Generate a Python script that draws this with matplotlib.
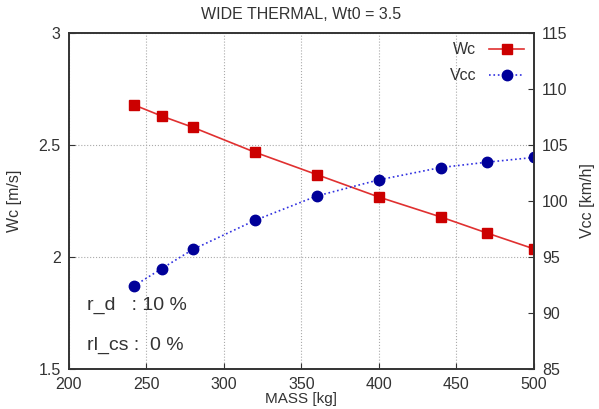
import matplotlib.pyplot as plt

mass = [242, 260, 280, 320, 360, 400, 440, 470, 500]
wc = [2.678, 2.628, 2.578, 2.467, 2.367, 2.267, 2.178, 2.106, 2.036]
vcc = [92.4, 93.96, 95.66, 98.25, 100.43, 101.87, 102.97, 103.45, 103.87]

plt.rcParams['font.family'] = ['Liberation Sans', 'DejaVu Sans']
txt = '#333333'

fig = plt.figure(figsize=(5.99, 4.09), dpi=100)
ax = fig.add_axes([0.115, 0.098, 0.776, 0.822])
ax2 = ax.twinx()

l1, = ax.plot(mass, wc, color='#e03030', lw=1.2, marker='s', ms=7.5,
              mfc='#cc0000', mec='#cc0000', label='Wc')
l2, = ax2.plot(mass, vcc, color='#3030e0', lw=1.2, ls=':', marker='o', ms=7.5,
               mfc='#000099', mec='#000099', label='Vcc')

ax.set_xlim(200, 500)
ax.set_ylim(1.5, 3)
ax2.set_ylim(85, 115)
ax.set_xticks(range(200, 501, 50))
ax.set_yticks([1.5, 2, 2.5, 3])
ax.set_yticklabels(['1.5', '2', '2.5', '3'])
ax2.set_yticks(range(85, 116, 5))

ax.grid(True, color='#aaaaaa', ls=':', lw=0.8)
ax.tick_params(direction='in', labelsize=11.5, colors=txt, length=4, pad=6)
ax2.tick_params(direction='in', labelsize=11.5, colors=txt, length=4, pad=6)
for a in (ax, ax2):
    for s in a.spines.values():
        s.set_color('#333333')
        s.set_linewidth(1.2)

ax.set_title('WIDE THERMAL, Wt0 = 3.5', fontsize=11.5, color=txt, pad=10)
ax.set_xlabel('MASS [kg]', fontsize=11, color=txt, labelpad=0)
ax.set_ylabel('Wc [m/s]', fontsize=11.5, color=txt, labelpad=12)
ax2.set_ylabel('Vcc [km/h]', fontsize=11.5, color=txt, labelpad=8)

ax.text(0.04, 0.19, 'r_d   : 10 %', transform=ax.transAxes, fontsize=14,
        color=txt, va='center')
ax.text(0.04, 0.07, 'rl_cs :  0 %', transform=ax.transAxes, fontsize=14,
        color=txt, va='center')

ax2.legend([l1, l2], ['Wc', 'Vcc'], loc='upper right', frameon=False,
           markerfirst=False, fontsize=11.5, handlelength=2.2,
           borderaxespad=0.2, labelcolor=txt, labelspacing=0.7)

fig.savefig('out.png', dpi=100)
